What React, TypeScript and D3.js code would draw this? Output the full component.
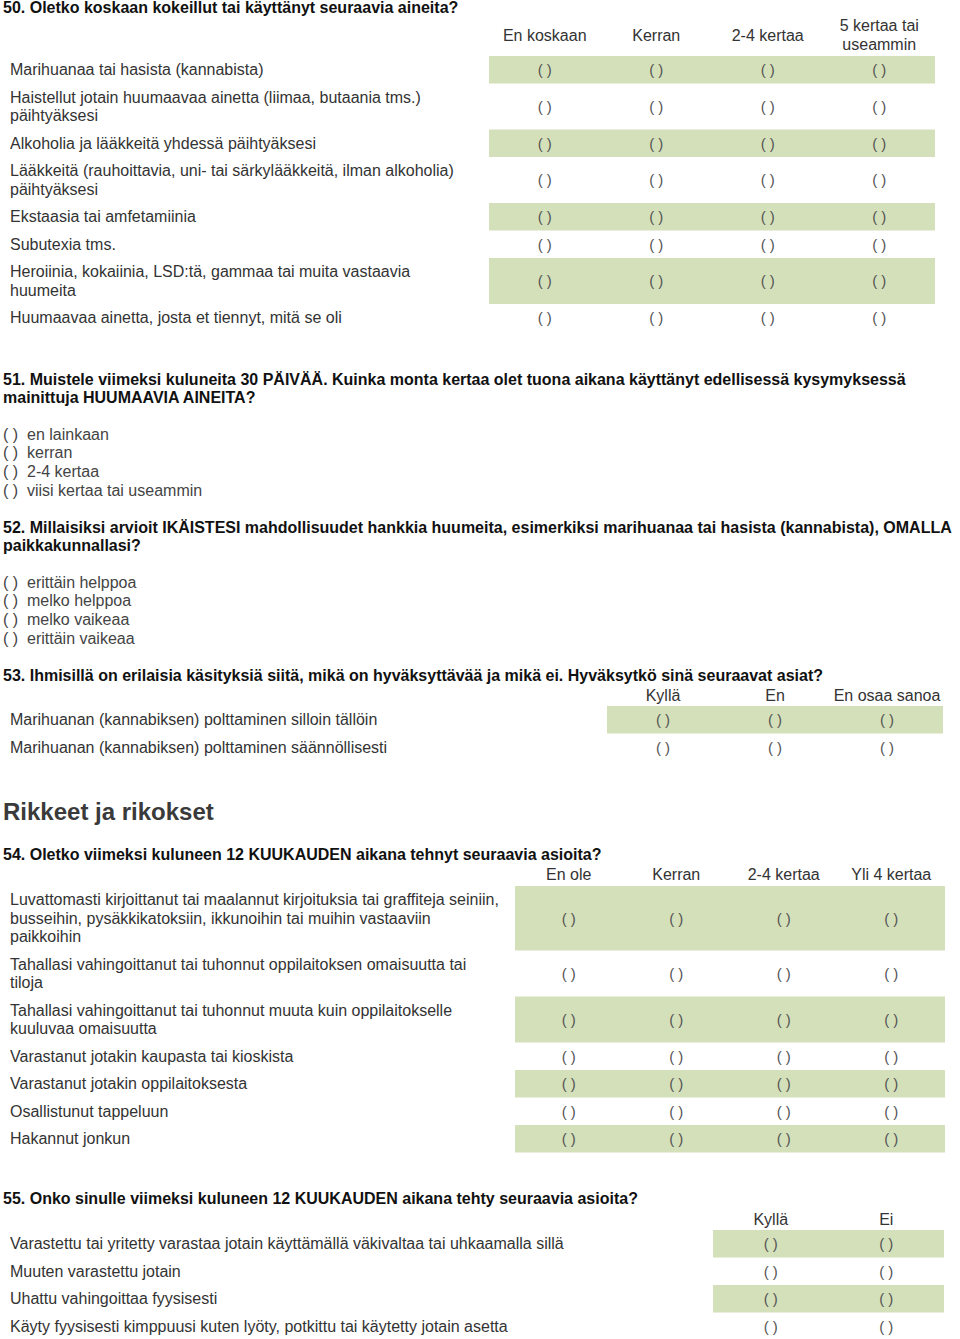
import React from "react";
import * as d3 from "d3";

// --- data ---
const q50Title = "50. Oletko koskaan kokeillut tai käyttänyt seuraavia aineita?";
const q50Columns = ["En koskaan", "Kerran", "2-4 kertaa", "5 kertaa tai|useammin"];
const q50Rows = [
  "Marihuanaa tai hasista (kannabista)",
  "Haistellut jotain huumaavaa ainetta (liimaa, butaania tms.)|päihtyäksesi",
  "Alkoholia ja lääkkeitä yhdessä päihtyäksesi",
  "Lääkkeitä (rauhoittavia, uni- tai särkylääkkeitä, ilman alkoholia)|päihtyäksesi",
  "Ekstaasia tai amfetamiinia",
  "Subutexia tms.",
  "Heroiinia, kokaiinia, LSD:tä, gammaa tai muita vastaavia|huumeita",
  "Huumaavaa ainetta, josta et tiennyt, mitä se oli",
];

const q51Title = [
  "51. Muistele viimeksi kuluneita 30 PÄIVÄÄ. Kuinka monta kertaa olet tuona aikana käyttänyt edellisessä kysymyksessä",
  "mainittuja HUUMAAVIA AINEITA?",
];
const q51Options = ["en lainkaan", "kerran", "2-4 kertaa", "viisi kertaa tai useammin"];

const q52Title = [
  "52. Millaisiksi arvioit IKÄISTESI mahdollisuudet hankkia huumeita, esimerkiksi marihuanaa tai hasista (kannabista), OMALLA",
  "paikkakunnallasi?",
];
const q52Options = ["erittäin helppoa", "melko helppoa", "melko vaikeaa", "erittäin vaikeaa"];

const q53Title = "53. Ihmisillä on erilaisia käsityksiä siitä, mikä on hyväksyttävää ja mikä ei. Hyväksytkö sinä seuraavat asiat?";
const q53Columns = ["Kyllä", "En", "En osaa sanoa"];
const q53Rows = [
  "Marihuanan (kannabiksen) polttaminen silloin tällöin",
  "Marihuanan (kannabiksen) polttaminen säännöllisesti",
];

const sectionTitle = "Rikkeet ja rikokset";

const q54Title = "54. Oletko viimeksi kuluneen 12 KUUKAUDEN aikana tehnyt seuraavia asioita?";
const q54Columns = ["En ole", "Kerran", "2-4 kertaa", "Yli 4 kertaa"];
const q54Rows = [
  "Luvattomasti kirjoittanut tai maalannut kirjoituksia tai graffiteja seiniin,|busseihin, pysäkkikatoksiin, ikkunoihin tai muihin vastaaviin|paikkoihin",
  "Tahallasi vahingoittanut tai tuhonnut oppilaitoksen omaisuutta tai|tiloja",
  "Tahallasi vahingoittanut tai tuhonnut muuta kuin oppilaitokselle|kuuluvaa omaisuutta",
  "Varastanut jotakin kaupasta tai kioskista",
  "Varastanut jotakin oppilaitoksesta",
  "Osallistunut tappeluun",
  "Hakannut jonkun",
];

const q55Title = "55. Onko sinulle viimeksi kuluneen 12 KUUKAUDEN aikana tehty seuraavia asioita?";
const q55Columns = ["Kyllä", "Ei"];
const q55Rows = [
  "Varastettu tai yritetty varastaa jotain käyttämällä väkivaltaa tai uhkaamalla sillä",
  "Muuten varastettu jotain",
  "Uhattu vahingoittaa fyysisesti",
  "Käyty fyysisesti kimppuusi kuten lyöty, potkittu tai käytetty jotain asetta",
];

// --- styles ---
const FONT = "'Liberation Sans', Arial, sans-serif";
const GREEN = "#d4e0b9";
const TEXT = "#333";
const SIZE = 16;
const LINE_H = 18.5;
const ROW_BASE = 27.5;

type MatrixProps = {
  columns: string[];
  rows: string[];
  x0: number;
  x1: number;
  top: number;
  headerY: number;
};

function Matrix({ columns, rows, x0, x1, top, headerY }: MatrixProps) {
  const x = d3.scaleBand<string>().domain(columns).range([x0, x1]);
  const lines = rows.map((r) => r.split("|"));
  const heights = lines.map((l) => ROW_BASE + (l.length - 1) * LINE_H);
  const ends = Array.from(d3.cumsum(heights));
  const starts = ends.map((e, i) => top + e - heights[i]);

  return (
    <g>
      {columns.map((c) => {
        const parts = c.split("|");
        const cx = (x(c) ?? 0) + x.bandwidth() / 2;
        return (
          <text key={c} x={cx} textAnchor="middle" fontSize={SIZE} fill={TEXT} fontFamily={FONT}>
            {parts.map((p, j) => (
              <tspan key={j} x={cx} y={headerY + (j - (parts.length - 1) / 2) * LINE_H} dy="0.35em">
                {p}
              </tspan>
            ))}
          </text>
        );
      })}
      {lines.map((l, i) => {
        const y0 = starts[i];
        const cy = y0 + heights[i] / 2;
        return (
          <g key={i}>
            {i % 2 === 0 && <rect x={x0} y={y0} width={x1 - x0} height={heights[i]} fill={GREEN} />}
            <text fontSize={SIZE} fill={TEXT} fontFamily={FONT}>
              {l.map((p, j) => (
                <tspan key={j} x={10} y={cy + (j - (l.length - 1) / 2) * LINE_H} dy="0.35em">
                  {p}
                </tspan>
              ))}
            </text>
            {columns.map((c) => (
              <text
                key={c}
                x={(x(c) ?? 0) + x.bandwidth() / 2}
                y={cy}
                dy="0.35em"
                textAnchor="middle"
                fontSize={15}
                fill="#555"
                fontFamily={FONT}
              >
                ( )
              </text>
            ))}
          </g>
        );
      })}
    </g>
  );
}

function Options({ options, top }: { options: string[]; top: number }) {
  const y = d3.scalePoint<string>().domain(options).range([top, top + (options.length - 1) * 18.7]);
  return (
    <g fontSize={SIZE} fill="#444" fontFamily={FONT}>
      {options.map((o) => (
        <g key={o}>
          <text x={3} y={y(o)} dy="0.35em">( )</text>
          <text x={27} y={y(o)} dy="0.35em">{o}</text>
        </g>
      ))}
    </g>
  );
}

function Title({ lines, y }: { lines: string[]; y: number }) {
  return (
    <text fontSize={SIZE} fontWeight="bold" fill="#111" fontFamily={FONT}>
      {lines.map((l, j) => (
        <tspan key={j} x={3} y={y + j * 18.5} dy="0.35em">
          {l}
        </tspan>
      ))}
    </text>
  );
}

export default function App() {
  return (
    <svg
      width={960}
      height={1339}
      style={{ position: "absolute", left: 0, top: 0, background: "#fff" }}
    >
      <rect width={960} height={1339} fill="#fff" />
      <Title lines={[q50Title]} y={7} />
      <Matrix columns={q50Columns} rows={q50Rows} x0={489} x1={935} top={56} headerY={35} />

      <Title lines={q51Title} y={379} />
      <Options options={q51Options} top={434} />

      <Title lines={q52Title} y={527} />
      <Options options={q52Options} top={582} />

      <Title lines={[q53Title]} y={675} />
      <Matrix columns={q53Columns} rows={q53Rows} x0={607} x1={943} top={706} headerY={695} />

      <text x={3} y={812} dy="0.35em" fontSize={24} fontWeight="bold" fill="#3a3a3a" fontFamily={FONT}>
        {sectionTitle}
      </text>

      <Title lines={[q54Title]} y={854} />
      <Matrix columns={q54Columns} rows={q54Rows} x0={515} x1={945} top={886} headerY={874} />

      <Title lines={[q55Title]} y={1198} />
      <Matrix columns={q55Columns} rows={q55Rows} x0={713} x1={944} top={1230} headerY={1219} />
    </svg>
  );
}
